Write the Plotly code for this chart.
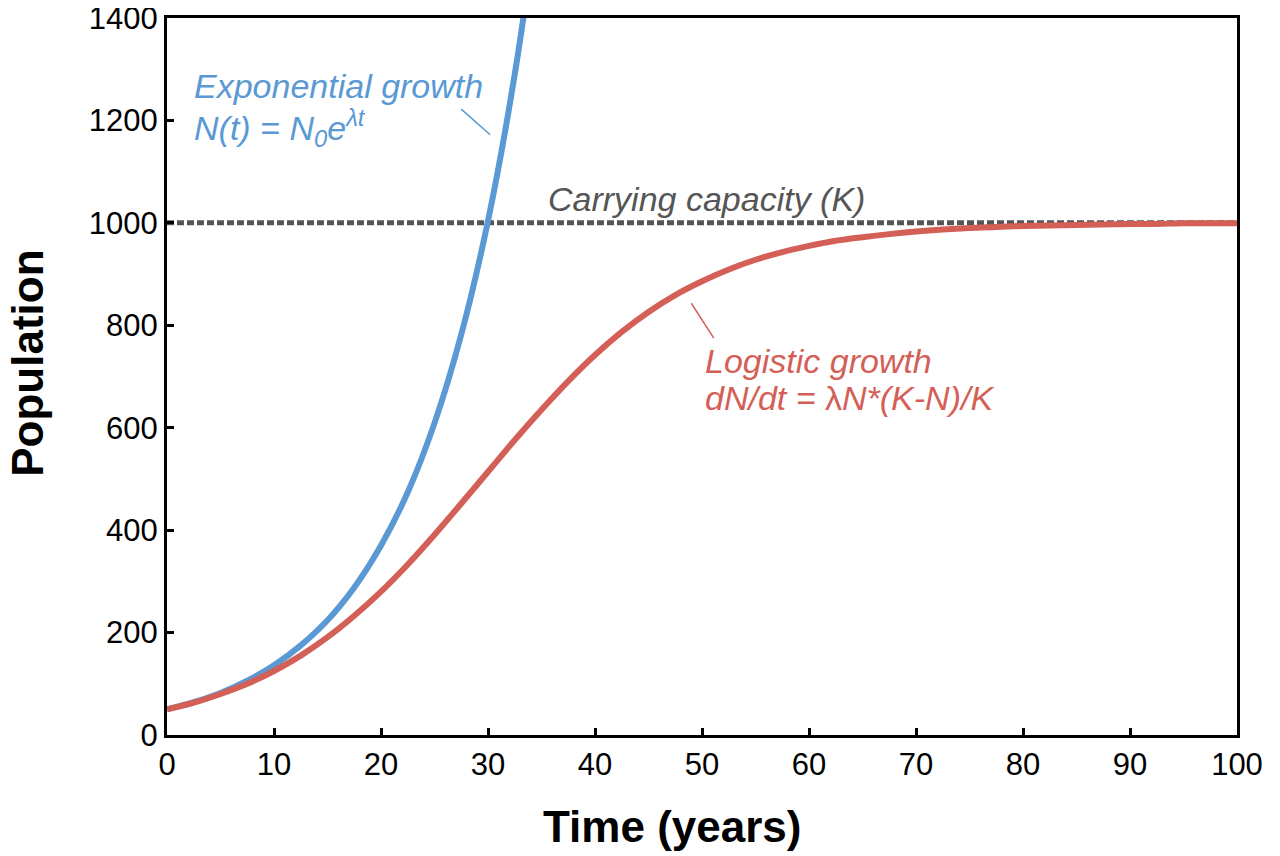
import plotly.graph_objects as go

# ---- data ----
t_exp = [0, 2.5, 5, 7.5, 10, 12.5, 15, 17.5, 20, 22.5, 25, 27.5, 30, 32.5, 35]
n_exp = [50, 64, 82, 106, 136, 175, 224, 288, 370, 474, 609, 782, 1004, 1290, 1656]

t_log = [0, 2.5, 5, 7.5, 10, 12.5, 15, 17.5, 20, 22.5, 25, 27.5, 30, 32.5, 35, 37.5,
         40, 42.5, 45, 47.5, 50, 52.5, 55, 57.5, 60, 62.5, 65, 67.5, 70, 72.5, 75,
         77.5, 80, 82.5, 85, 87.5, 90, 92.5, 95, 97.5, 100]
n_log = [50, 63, 80, 100, 125, 155, 191, 233, 280, 333, 391, 452, 514, 576, 635, 691,
         742, 787, 826, 859, 886, 909, 928, 943, 955, 965, 972, 978, 983, 987, 990,
         992, 994, 995, 996, 997, 998, 998, 999, 999, 999]

k_x = [0, 100]
k_y = [1000, 1000]

x_ticks = [0, 10, 20, 30, 40, 50, 60, 70, 80, 90, 100]
y_ticks = [0, 200, 400, 600, 800, 1000, 1200, 1400]

BLUE = "#5A99D3"
RED = "#D45F57"
GRAY = "#555555"
FONT = "Liberation Sans, Arial, sans-serif"

fig = go.Figure()
fig.add_trace(go.Scatter(x=k_x, y=k_y, mode="lines",
                         line=dict(color=GRAY, width=5, dash="7px,3px"),
                         hoverinfo="skip"))
fig.add_trace(go.Scatter(x=t_exp, y=n_exp, mode="lines",
                         line=dict(color=BLUE, width=6, shape="spline"),
                         hoverinfo="skip"))
fig.add_trace(go.Scatter(x=t_log, y=n_log, mode="lines",
                         line=dict(color=RED, width=6, shape="spline"),
                         hoverinfo="skip"))

# leader lines
fig.add_shape(type="line", x0=27.5, y0=1222, x1=30.2, y1=1172,
              line=dict(color=BLUE, width=1.5))
fig.add_shape(type="line", x0=49.0, y0=843, x1=51.1, y1=775,
              line=dict(color=RED, width=1.5))

ann_font = 34
fig.add_annotation(x=2.3, y=1268, text="<i>Exponential growth</i>", showarrow=False,
                   xanchor="left", yanchor="middle",
                   font=dict(family=FONT, size=ann_font, color=BLUE))
fig.add_annotation(x=2.3, y=1186,
                   text="<i>N(t) = N<sub>0</sub>e<sup>λt</sup></i>", showarrow=False,
                   xanchor="left", yanchor="middle",
                   font=dict(family=FONT, size=ann_font, color=BLUE))
fig.add_annotation(x=50.4, y=1047, text="<i>Carrying capacity (K)</i>", showarrow=False,
                   xanchor="center", yanchor="middle",
                   font=dict(family=FONT, size=ann_font, color=GRAY))
fig.add_annotation(x=50.1, y=730, text="<i>Logistic growth</i>", showarrow=False,
                   xanchor="left", yanchor="middle",
                   font=dict(family=FONT, size=ann_font, color=RED))
fig.add_annotation(x=50.1, y=658, text="<i>dN/dt = </i>λ<i>N*(K-N)/K</i>", showarrow=False,
                   xanchor="left", yanchor="middle",
                   font=dict(family=FONT, size=ann_font, color=RED))

# axis titles
fig.add_annotation(xref="paper", yref="paper", x=-0.13, y=0.519,
                   text="<b>Population</b>", textangle=-90, showarrow=False,
                   xanchor="center", yanchor="middle",
                   font=dict(family=FONT, size=44, color="black"))
fig.add_annotation(xref="paper", yref="paper", x=0.472, y=-0.127,
                   text="<b>Time (years)</b>", showarrow=False,
                   xanchor="center", yanchor="middle",
                   font=dict(family=FONT, size=44, color="black"))

axis_common = dict(showgrid=False, zeroline=False, showline=True, linecolor="black",
                   linewidth=3, mirror=True, ticks="inside", ticklen=7, tickwidth=2.5,
                   tickcolor="black", automargin=False, ticklabeloverflow="allow",
                   tickfont=dict(family=FONT, size=31, color="black"))

fig.update_xaxes(range=[0, 100], tickvals=x_ticks, ticktext=[str(v) for v in x_ticks],
                 **axis_common)
fig.update_yaxes(range=[0, 1400], tickvals=y_ticks, ticktext=[str(v) for v in y_ticks],
                 **axis_common)

# page body adds an 8px offset, so margins are shifted to compensate
fig.update_layout(width=1280, height=856, showlegend=False,
                  margin=dict(l=159, r=51, t=10, b=129, autoexpand=False),
                  plot_bgcolor="white", paper_bgcolor="white",
                  font=dict(family=FONT))

fig.write_html("out.html")
